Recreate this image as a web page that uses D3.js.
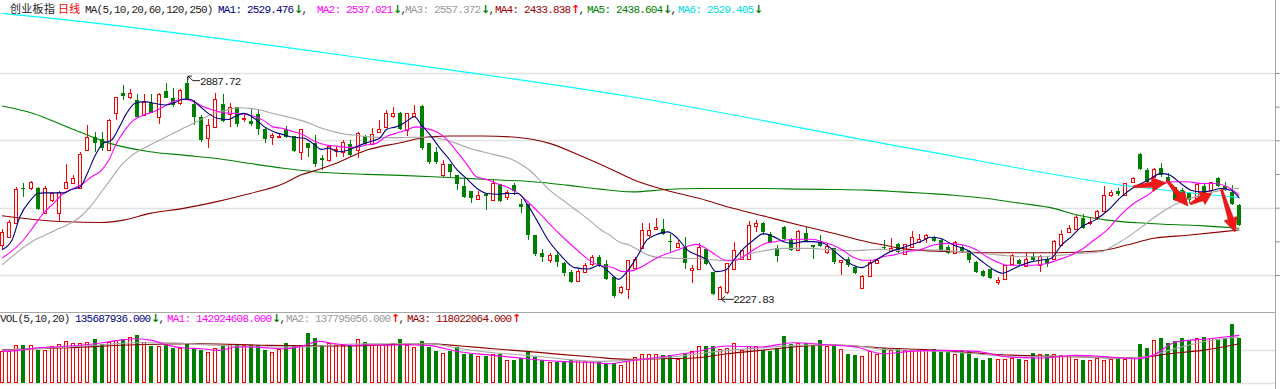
<!DOCTYPE html>
<html lang="zh-CN">
<head>
<meta charset="UTF-8">
<title>创业板指 日线</title>
<script src="https://d3js.org/d3.v7.min.js"></script>
<style>
  body { margin: 0; background: #fff; }
  svg { display: block; }
  .mono { font-family: "Liberation Mono", "DejaVu Sans Mono", monospace; font-size: 11px; letter-spacing: -0.8px; }
  .arrow { font-family: "DejaVu Sans", sans-serif; font-size: 11px; font-weight: bold; }
  .cjk { font-family: "Noto Sans CJK SC", sans-serif; font-size: 11px; letter-spacing: 0.3px; }
</style>
</head>
<body>
<div id="chart"></div>
<script>
// daily candles, index 0 = leftmost day
const opens = [
  2389,2414,2453,2559,2557,2559,2483,2522,2483,2557, 2572,2559,2671,2709,2704,2671,2782,2842,2830,2820,
  2775,2812,2768,2846,2827,2810,2871,2807,2770,2706, 2740,2807,2778,2800,2762,2758,2778,2735,2711,2711,
  2735,2713,2666,2691,2691,2648,2641,2671,2666,2689, 2671,2713,2688,2726,2740,2772,2782,2730,2772,2802,
  2691,2666,2597,2629,2597,2564,2549,2527,2540,2524, 2570,2532,2567,2512,2512,2418,2365,2345,2360,2335,
  2310,2282,2310,2332,2352,2334,2295,2250,2257,2322, 2379,2418,2438,2438,2402,2384,2384,2315,2319,2377,
  2310,2230,2250,2319,2347,2347,2445,2453,2423,2379, 2443,2406,2374,2425,2388,2399,2369,2379,2339,2349,
  2324,2260,2297,2336,2384,2372,2391,2362,2384,2399, 2409,2412,2404,2384,2364,2384,2372,2339,2312,2317,
  2280,2287,2334,2346,2326,2356,2329,2349,2349,2389, 2428,2438,2470,2453,2471,2490,2537,2550,2537,2577,
  2659,2612,2592,2619,2592,2560,2552,2544,2528,2564, 2552,2587,2564,2547,2508
];
const highs = [
  2438,2463,2562,2572,2580,2562,2564,2547,2550,2631, 2597,2666,2745,2726,2726,2762,2830,2864,2851,2837,
  2837,2837,2840,2869,2856,2853,2887.72,2820,2775,2762, 2842,2837,2810,2800,2775,2792,2790,2740,2721,2721,
  2742,2713,2735,2691,2716,2656,2686,2683,2701,2701, 2726,2716,2736,2760,2790,2798,2784,2782,2805,2805,
  2691,2679,2641,2629,2597,2587,2549,2550,2543,2584, 2570,2552,2572,2527,2512,2420,2378,2365,2370,2340,
  2315,2318,2335,2360,2358,2344,2297,2267,2346,2354, 2453,2453,2468,2465,2423,2404,2414,2329,2394,2377,
  2310,2267,2336,2399,2376,2461,2463,2458,2428,2389, 2445,2409,2433,2443,2389,2418,2394,2379,2346,2354,
  2326,2300,2344,2348,2404,2409,2394,2392,2431,2423, 2421,2416,2406,2389,2401,2389,2374,2341,2315,2319,
  2295,2331,2362,2349,2364,2366,2359,2354,2404,2433, 2448,2478,2481,2473,2493,2564,2552,2557,2574,2592,
  2661,2619,2617,2632,2602,2562,2557,2547,2572,2570, 2577,2590,2577,2567,2511
];
const lows = [
  2374,2409,2451,2532,2552,2493,2481,2517,2461,2554, 2570,2557,2669,2666,2669,2669,2760,2820,2822,2765,
  2773,2780,2750,2825,2800,2805,2820,2745,2696,2676, 2738,2755,2740,2740,2755,2742,2716,2693,2686,2706,
  2706,2666,2641,2651,2622,2612,2636,2651,2651,2651, 2649,2686,2686,2723,2738,2765,2730,2713,2770,2671,
  2631,2631,2592,2592,2552,2530,2515,2524,2493,2522, 2517,2524,2537,2485,2404,2355,2340,2335,2325,2298,
  2275,2278,2305,2328,2325,2285,2232,2245,2230,2319, 2376,2414,2433,2420,2369,2379,2319,2277,2317,2329,
  2240,2227.83,2245,2317,2344,2344,2428,2418,2394,2339, 2404,2372,2372,2397,2349,2384,2362,2334,2300,2324,
  2303,2257,2295,2334,2374,2369,2364,2360,2379,2396, 2394,2399,2369,2362,2362,2366,2336,2307,2293,2287,
  2270,2285,2332,2329,2324,2339,2310,2324,2346,2387, 2425,2435,2438,2448,2463,2488,2532,2534,2535,2572,
  2612,2572,2590,2592,2572,2521,2523,2515,2523,2540, 2547,2560,2550,2508,2445
];
const closes = [
  2428,2456,2554,2554,2577,2496,2559,2544,2547,2575, 2587,2658,2711,2691,2676,2760,2828,2832,2842,2768,
  2813,2782,2837,2827,2805,2849,2822,2768,2701,2747, 2822,2758,2800,2750,2767,2750,2735,2704,2716,2714,
  2711,2669,2735,2676,2630,2641,2683,2674,2696,2656, 2723,2688,2719,2733,2780,2780,2735,2782,2782,2676,
  2636,2636,2631,2607,2570,2532,2529,2537,2536,2572, 2519,2547,2549,2503,2420,2362,2352,2358,2340,2305,
  2280,2312,2330,2352,2330,2287,2238,2263,2344,2349, 2433,2433,2443,2423,2397,2396,2336,2322,2384,2334,
  2245,2265,2336,2374,2374,2450,2453,2428,2399,2356, 2406,2374,2431,2399,2384,2386,2386,2339,2344,2329,
  2305,2297,2339,2346,2379,2381,2369,2391,2414,2407, 2418,2402,2372,2366,2399,2372,2346,2310,2297,2290,
  2285,2329,2359,2334,2349,2344,2356,2334,2401,2423, 2440,2473,2441,2458,2491,2539,2547,2542,2572,2587,
  2614,2577,2615,2597,2577,2523,2537,2523,2570,2542, 2575,2564,2552,2511,2448
];
// volume, millions of shares
const volumes = [
  95,95,113,113,113,98,98,111,116,126, 121,121,123,131,118,123,128,133,138,145,
  123,110,111,116,105,105,118,101,98,93, 105,113,118,118,113,113,113,98,93,103,
  121,113,113,150,136,113,121,113,115,113, 131,123,113,115,115,121,131,113,108,126,
  108,95,90,95,108,86,86,81,81,86, 86,68,68,75,95,78,70,63,63,65,
  70,68,65,65,63,58,61,55,73,78, 88,88,88,83,83,71,91,95,110,110,
  110,101,105,121,98,111,111,98,95,105, 141,118,121,121,113,128,111,111,103,86,
  83,81,95,88,105,98,105,98,98,101, 98,101,98,95,86,95,95,75,68,75,
  73,71,75,73,70,91,88,86,86,83, 83,71,68,68,75,68,73,71,73,78,
  118,105,128,136,121,125,136,128,136,138, 136,128,136,176,136
];

// moving average lines: [day index, value]
const ma5Pts = [[0,2375],[1.4,2404],[2.5,2473],[4,2522],[5,2542],[6,2544],[7.2,2544],[8.8,2544],[9.5,2552],[11,2562],[12,2602],[13,2651],[14.2,2691],[15.4,2701],[16.5,2740],[17.5,2780],[18.7,2810],[20,2815],[21.4,2810],[23,2805],[24.3,2812],[25.4,2822],[26.4,2822],[27.6,2805],[29,2780],[30.4,2765],[31.8,2762],[32.7,2770],[34,2780],[35.5,2765],[36.9,2740],[38.3,2725],[39.7,2716],[41,2709],[42.5,2706],[43.7,2691],[44.9,2673],[46,2677],[47.2,2666],[48.4,2669],[49.6,2679],[51,2691],[52.2,2699],[53.1,2706],[54.1,2733],[55.4,2740],[56.8,2755],[58,2770],[59,2745],[60.4,2711],[61.6,2676],[62.8,2646],[64,2612],[65.3,2587],[66.8,2557],[68.2,2542],[69.6,2540],[71,2542],[72.6,2542],[73.8,2512],[75.2,2463],[76.8,2404],[78.5,2360],[80.5,2322],[82.5,2318],[84,2329],[85.3,2310],[86.7,2287],[87.9,2310],[89.3,2354],[90.7,2404],[91.9,2419],[93.6,2428],[95,2409],[96.4,2374],[97.8,2359],[99.2,2344],[100.4,2310],[101.8,2315],[102.9,2344],[104.3,2379],[105.7,2404],[107.1,2423],[108.5,2414],[109.9,2399],[111.3,2394],[112.7,2399],[114.1,2399],[115.5,2394],[116.9,2374],[118.3,2349],[119.7,2329],[120.9,2322],[122.1,2334],[123.5,2352],[124.9,2369],[126.3,2379],[127.8,2389],[129.6,2403],[130.5,2412],[131.9,2409],[133.8,2389],[135.7,2374],[137.6,2344],[139.5,2315],[140.7,2305],[141.9,2315],[143.3,2329],[144.7,2339],[146.1,2344],[147.5,2349],[149,2389],[150.4,2414],[151.8,2443],[153.7,2463],[155.6,2493],[157.4,2532],[159.3,2562],[161.2,2582],[163,2602],[164.2,2597],[165.8,2572],[167.2,2552],[168.6,2547],[170,2550],[171.4,2557],[172.8,2552],[174,2529]];
const ma10Pts = [[0,2350],[3,2404],[4.4,2443],[5.8,2483],[7.2,2512],[8.6,2542],[10,2557],[11.4,2572],[12.6,2592],[13.8,2607],[15,2641],[16.1,2691],[17.3,2731],[18.5,2760],[19.9,2775],[21.3,2785],[22.7,2800],[24.1,2815],[25.5,2822],[26.9,2815],[28.3,2800],[29.7,2790],[31.1,2782],[32.5,2780],[33.9,2778],[35.3,2772],[36.7,2760],[38.1,2740],[39.5,2735],[40.9,2726],[42.4,2716],[43.8,2699],[45.6,2686],[47,2683],[48.4,2679],[49.8,2679],[51.2,2686],[52.6,2691],[54,2711],[55.4,2721],[56.8,2730],[58.2,2740],[59.6,2735],[61,2726],[62.4,2706],[63.8,2671],[65.3,2631],[66.7,2592],[68.1,2584],[69.5,2572],[70.9,2562],[72.3,2547],[73.7,2522],[75.6,2483],[77.4,2443],[79.3,2404],[81,2372],[82.5,2345],[84,2329],[85.9,2322],[87.3,2310],[88.7,2313],[90.1,2326],[91.5,2344],[92.9,2359],[94.3,2369],[96.2,2384],[97.6,2391],[99,2379],[100.4,2359],[101.8,2344],[103.2,2344],[104.6,2359],[106,2379],[107.4,2394],[108.8,2399],[110.2,2404],[112.1,2406],[114,2406],[115.4,2399],[116.8,2389],[118.2,2374],[119.6,2354],[121,2344],[122.5,2344],[123.9,2354],[125.3,2359],[127.2,2369],[129,2374],[131,2389],[132.9,2394],[135.2,2389],[137.1,2374],[138.5,2354],[139.9,2339],[141.3,2329],[143.2,2329],[145.1,2329],[147,2334],[148.4,2344],[149.8,2354],[151.7,2374],[153.6,2404],[155.4,2433],[157.3,2478],[159.2,2513],[161.1,2537],[163,2567],[164.8,2577],[166.7,2577],[168.6,2572],[170.5,2572],[172.3,2562],[174,2537]];
const ma20Pts = [[0,2330],[4.6,2404],[6,2418],[7.5,2433],[9.1,2448],[11,2473],[12.4,2503],[13.8,2542],[15.2,2582],[16.6,2622],[18,2651],[19.4,2671],[20.8,2686],[22.2,2701],[23.6,2716],[25,2731],[26.4,2745],[27.8,2760],[29.2,2775],[30.6,2785],[32,2792],[33.4,2797],[34.9,2795],[36.3,2790],[37.7,2782],[39.1,2775],[40.5,2768],[41.9,2760],[43.3,2750],[44.7,2738],[46.6,2726],[48,2719],[49.4,2716],[51.3,2711],[52.7,2709],[54.1,2708],[55.5,2708],[57.4,2709],[58.8,2709],[60.6,2709],[62,2703],[63.9,2691],[65.8,2676],[67.6,2666],[69.5,2656],[71.4,2646],[72.8,2631],[74.2,2611],[75.6,2582],[77,2552],[78.9,2522],[80.7,2493],[82.6,2463],[84.3,2433],[85.5,2418],[86.7,2399],[88.2,2389],[89.5,2374],[90.9,2359],[92.3,2352],[93.7,2351],[95.1,2349],[96.5,2349],[97.9,2349],[99.3,2346],[100.7,2344],[102.1,2342],[103.6,2349],[105,2362],[106.4,2369],[108.3,2376],[110.1,2379],[112,2379],[113.9,2379],[115.8,2376],[117.6,2374],[119.5,2372],[121.4,2374],[123.2,2376],[125.1,2374],[127,2372],[129,2375],[131.9,2374],[134.7,2369],[137.6,2364],[140.4,2359],[143.2,2354],[146,2354],[149,2359],[151.8,2364],[154.6,2369],[156.5,2389],[158.4,2414],[160.3,2443],[162.2,2473],[164,2498],[165.9,2518],[167.8,2532],[169.6,2542],[171.5,2552],[173.4,2557],[174,2557]];
const ma60Pts = [[0,2476],[4.4,2465],[9.1,2458],[13.8,2456],[17.1,2463],[20.8,2483],[25.5,2498],[30.2,2518],[34.9,2542],[39.6,2572],[42,2597],[44.3,2612],[47,2632],[51.3,2671],[56,2693],[58.8,2706],[60.6,2711],[63,2713],[67.6,2713],[72.3,2709],[77,2691],[81.7,2651],[86.4,2607],[88.7,2584],[93.4,2552],[98.1,2527],[102.8,2498],[107.5,2473],[112.2,2448],[116.9,2424],[121.6,2399],[124,2389],[126.3,2379],[128.7,2374],[133.8,2369],[138.5,2366],[143.2,2366],[147.9,2366],[154.5,2372],[158.2,2389],[162,2409],[166.7,2418],[171.4,2428],[174,2434]];
const ma120Pts = [[0,2802],[4.4,2780],[9.1,2740],[12,2716],[15.2,2691],[20.8,2666],[25.5,2656],[30.2,2646],[34.9,2631],[39.6,2617],[44.3,2606],[51.3,2599],[56,2596],[60.6,2592],[65.3,2587],[70,2582],[74.7,2577],[79.4,2567],[84.1,2555],[88.7,2547],[93.4,2554],[98.1,2557],[102.8,2557],[107.5,2557],[112.2,2555],[116.9,2554],[121.6,2552],[126.3,2547],[130.4,2542],[133.8,2537],[138.5,2527],[143.2,2513],[147.9,2498],[151.2,2478],[155.4,2463],[159.7,2455],[164.4,2450],[169.1,2446],[174,2439]];
const ma250Pts = [[0,3077],[6.7,3063],[52.7,2939],[88.3,2830],[129.1,2671],[159.3,2562],[174,2530]];

// volume moving averages (millions)
const vma5Pts = [[0,95],[2.3,98],[4.7,105],[7,108],[9.4,111],[11.7,115],[14.1,121],[16.4,128],[18.8,133],[21.1,128],[23.4,113],[25.8,105],[28.1,103],[30.5,98],[32.8,108],[35.2,108],[37.5,105],[39.8,103],[42.2,111],[44.5,125],[46.9,118],[49.2,113],[51.6,115],[53.9,113],[56.3,115],[59.8,113],[64.5,93],[69.1,83],[73.8,73],[78.5,65],[83.2,61],[85.5,58],[87.9,65],[92.6,78],[97.3,93],[102,111],[106.6,108],[111.3,121],[116,115],[120,108],[124,88],[127.6,95],[132.3,98],[137,95],[141.6,78],[146.3,75],[151,83],[155.7,78],[159.6,73],[161.8,83],[165.1,123],[169.8,133],[174,143]];
const vma10Pts = [[0,98],[4.7,103],[9.4,108],[14.1,115],[18.8,121],[23.4,121],[28.1,115],[32.8,111],[37.5,108],[42.2,108],[46.9,115],[51.6,118],[60,118],[64.5,103],[69.1,91],[73.8,83],[78.5,73],[83.2,65],[87.9,68],[92.6,75],[97.3,86],[102,98],[106.6,105],[111.3,113],[116,115],[120,111],[124.2,101],[128.9,98],[133.6,93],[138.3,85],[143,78],[147.7,81],[152.4,78],[157,75],[160.8,78],[164.1,98],[168.8,123],[174,138]];
const vma20Pts = [[0,100],[9.4,106],[18.8,115],[28.1,118],[37.5,113],[46.9,111],[56,116],[60,118],[64.5,111],[69.1,103],[73.8,95],[78.5,86],[83.2,78],[87.9,71],[92.6,73],[97.3,75],[102,88],[106.6,98],[111.3,108],[116,115],[120,111],[124.2,105],[128.9,101],[133.6,95],[138.3,88],[143,83],[147.7,80],[152.4,78],[157,75],[160.8,78],[164.1,88],[168.8,98],[174,118]];

// header readouts (x = left edge in px)
const maLabels = [
  { text: "MA1: 2529.476", color: "#000080", x: 218, dir: "down" },
  { text: "MA2: 2537.021", color: "#ff00ff", x: 317, dir: "down" },
  { text: "MA3: 2557.372", color: "#999999", x: 405, dir: "down" },
  { text: "MA4: 2433.838", color: "#990000", x: 495, dir: "up" },
  { text: "MA5: 2438.604", color: "#008000", x: 587, dir: "down" },
  { text: "MA6: 2529.405", color: "#00dddd", x: 678, dir: "down" }
];
const volLabels = [
  { text: "135687936.000", color: "#000080", x: 75, dir: "down" },
  { text: "MA1: 142924608.000", color: "#ff00ff", x: 167, dir: "down" },
  { text: "MA2: 137795056.000", color: "#999999", x: 286, dir: "up" },
  { text: "MA3: 118022064.000", color: "#990000", x: 407, dir: "up" }
];
const priceTicks = [2300, 2500, 2700, 2900];
const volTicks = [0, 100];

// red hand-drawn arrows: [day index, price]
const arrowFrom = [[159.1, 2562], [163.8, 2582], [167.1, 2511], [171.5, 2554]];
const arrowTo   = [[163.7, 2574], [166.8, 2505], [170.1, 2542], [173.4, 2428]];

const W = 1280, H = 389, n = closes.length;
const RED = "#ff0000", GREEN = "#008000", CW = 5.8; // monospace advance

const svg = d3.select("#chart").append("svg").attr("width", W).attr("height", H);

const x = d3.scaleBand().domain(d3.range(n)).range([-1.46, 1242.8])
  .paddingInner(0.41).paddingOuter(0.205);
const bw = x.bandwidth();
const xc = d3.scaleLinear().domain([0, n - 1]).range([x(0) + bw / 2, x(n - 1) + bw / 2]);
const y = d3.scaleLinear().domain([2300, 2900]).range([275, 73]);
const yv = d3.scaleLinear().domain([0, 100]).range([383, 349.7]);

// grid
svg.append("g").selectAll("line").data(priceTicks).join("line")
  .attr("x1", 0).attr("x2", 1275)
  .attr("y1", d => Math.round(y(d)) + 0.5).attr("y2", d => Math.round(y(d)) + 0.5)
  .attr("stroke", "#e2e2e2").attr("stroke-width", 1.6);
svg.append("g").selectAll("line").data(volTicks).join("line")
  .attr("x1", 0).attr("x2", 1275)
  .attr("y1", d => Math.round(yv(d)) + 0.5).attr("y2", d => Math.round(yv(d)) + 0.5)
  .attr("stroke", "#e2e2e2").attr("stroke-width", 1.6);
svg.append("line").attr("x1", 0).attr("x2", 1275).attr("y1", 312.5).attr("y2", 312.5)
  .attr("stroke", "#a8a8a8");
svg.append("line").attr("x1", 1275.5).attr("x2", 1275.5).attr("y1", 0).attr("y2", H)
  .attr("stroke", "#a8a8a8");
svg.append("g").attr("transform", "translate(1275.5,0)")
  .call(d3.axisRight(y).tickValues(d3.range(2300, 2901, 100)).tickSize(4).tickFormat(""))
  .call(g => g.select(".domain").remove())
  .selectAll("line").attr("stroke", "#888");

// candles
const days = d3.range(n).map(i => ({ i, o: opens[i], h: highs[i], l: lows[i], c: closes[i], v: volumes[i] }));
const px = d => Math.round(xc(d.i));
const candles = svg.append("g");
days.forEach(d => {
  const cx = px(d), up = d.c >= d.o;
  const col = up ? RED : GREEN;
  const yTop = Math.round(y(Math.max(d.o, d.c))), yBot = Math.round(y(Math.min(d.o, d.c)));
  const yH = Math.round(y(d.h)), yL = Math.round(y(d.l));
  if (up) {
    candles.append("line").attr("x1", cx + 0.5).attr("x2", cx + 0.5).attr("y1", yH).attr("y2", yTop)
      .attr("stroke", col);
    candles.append("line").attr("x1", cx + 0.5).attr("x2", cx + 0.5).attr("y1", yBot + 1).attr("y2", yL)
      .attr("stroke", col);
    candles.append("rect").attr("x", cx - 1.5).attr("y", yTop + 0.5)
      .attr("width", 3).attr("height", Math.max(0, yBot - yTop))
      .attr("fill", "#fff").attr("stroke", col);
  } else {
    candles.append("line").attr("x1", cx + 0.5).attr("x2", cx + 0.5).attr("y1", yH).attr("y2", yL)
      .attr("stroke", col);
    candles.append("rect").attr("x", cx - 2).attr("y", yTop)
      .attr("width", 4).attr("height", Math.max(1, yBot - yTop)).attr("fill", col);
  }
});

// volume bars
const vols = svg.append("g");
days.forEach(d => {
  const cx = px(d), up = d.c >= d.o, top = Math.round(yv(d.v));
  if (up) {
    vols.append("rect").attr("x", cx - 1.5).attr("y", top + 0.5).attr("width", 3)
      .attr("height", 383 - top - 1).attr("fill", "#fff").attr("stroke", RED);
  } else {
    vols.append("rect").attr("x", cx - 2).attr("y", top).attr("width", 4)
      .attr("height", 383 - top).attr("fill", GREEN);
  }
});

// MA lines
const priceLine = d3.line().x(d => xc(d[0])).y(d => y(d[1])).curve(d3.curveMonotoneX);
const volLine = d3.line().x(d => xc(d[0])).y(d => yv(d[1])).curve(d3.curveMonotoneX);
[[ma250Pts, "#00ffff"], [ma120Pts, "#008000"], [ma60Pts, "#8b0000"],
 [ma20Pts, "#a8a8a8"], [ma10Pts, "#ff00ff"], [ma5Pts, "#000080"]].forEach(([pts, col]) => {
  svg.append("path").attr("d", priceLine(pts)).attr("fill", "none")
    .attr("stroke", col).attr("stroke-width", 1.1);
});
[[vma20Pts, "#8b0000"], [vma10Pts, "#a8a8a8"], [vma5Pts, "#ff00ff"]].forEach(([pts, col]) => {
  svg.append("path").attr("d", volLine(pts)).attr("fill", "none")
    .attr("stroke", col).attr("stroke-width", 1.1);
});

// high / low markers
function marker(i, price, diag) {
  const tx = xc(i) + 1, ty = y(price);
  const g = svg.append("g").attr("fill", "none").attr("stroke", "#222");
  if (diag) {
    g.append("path").attr("d", `M${tx},${ty - 1}L${tx + 5},${ty + 3.5}L${tx + 12},${ty + 3.5}`);
    g.append("path").attr("d", `M${tx + 4},${ty - 1}L${tx},${ty - 1}L${tx},${ty + 3}`);
  } else {
    g.append("path").attr("d", `M${tx},${ty}L${tx + 13},${ty}`);
    g.append("path").attr("d", `M${tx + 4},${ty - 3}L${tx},${ty}L${tx + 4},${ty + 3}`);
  }
  svg.append("text").attr("class", "mono").attr("x", tx + 12).attr("y", ty + (diag ? 7.5 : 4))
    .attr("fill", "#222").text(d3.format(".2f")(price));
}
const hiIdx = d3.maxIndex(highs), loIdx = d3.minIndex(lows);
marker(hiIdx, highs[hiIdx], true);
marker(loIdx, lows[loIdx], false);

// annotation arrows
function arrowPath(a, b) {
  const x1 = xc(a[0]), y1 = y(a[1]), x2 = xc(b[0]), y2 = y(b[1]);
  const L = Math.hypot(x2 - x1, y2 - y1), ux = (x2 - x1) / L, uy = (y2 - y1) / L;
  const nx = -uy, ny = ux, hl = Math.min(14, L * 0.45), hw = 7, t0 = 1, t1 = 2.8;
  const bx = x2 - ux * hl, by = y2 - uy * hl;
  const pts = [[x1 + nx * t0, y1 + ny * t0], [bx + nx * t1, by + ny * t1], [bx + nx * hw, by + ny * hw],
    [x2, y2], [bx - nx * hw, by - ny * hw], [bx - nx * t1, by - ny * t1], [x1 - nx * t0, y1 - ny * t0]];
  return "M" + pts.map(p => p.join(",")).join("L") + "Z";
}
svg.append("g").selectAll("path").data(arrowFrom).join("path")
  .attr("d", (d, k) => arrowPath(d, arrowTo[k]))
  .attr("fill", "#f01818").attr("stroke", "#d00000").attr("stroke-width", 0.5);

// header lines: one text element per line, tspans placed by x
function readout(lead, items, baseY) {
  const t = svg.append("text").attr("y", baseY);
  lead.forEach(s => t.append("tspan").attr("class", s.cls).attr("x", s.x).attr("fill", s.color).text(s.text));
  items.forEach((it, k) => {
    const ax = it.x + it.text.length * CW + 0.5;
    t.append("tspan").attr("class", "mono").attr("x", it.x).attr("fill", it.color).text(it.text);
    t.append("tspan").attr("class", "arrow").attr("x", ax).attr("fill", it.dir === "up" ? RED : GREEN)
      .text(it.dir === "up" ? "↑" : "↓");
    if (k < items.length - 1)
      t.append("tspan").attr("class", "mono").attr("x", ax + 7.5).attr("fill", "#222").text(",");
  });
}
readout([
  { text: "创业板指", x: 10, color: "#222", cls: "cjk" },
  { text: "日线", x: 58, color: RED, cls: "cjk" },
  { text: "MA(5,10,20,60,120,250)", x: 85, color: "#222", cls: "mono" }
], maLabels, 13);
readout([{ text: "VOL(5,10,20)", x: 0, color: "#222", cls: "mono" }], volLabels, 322);
</script>
</body>
</html>
